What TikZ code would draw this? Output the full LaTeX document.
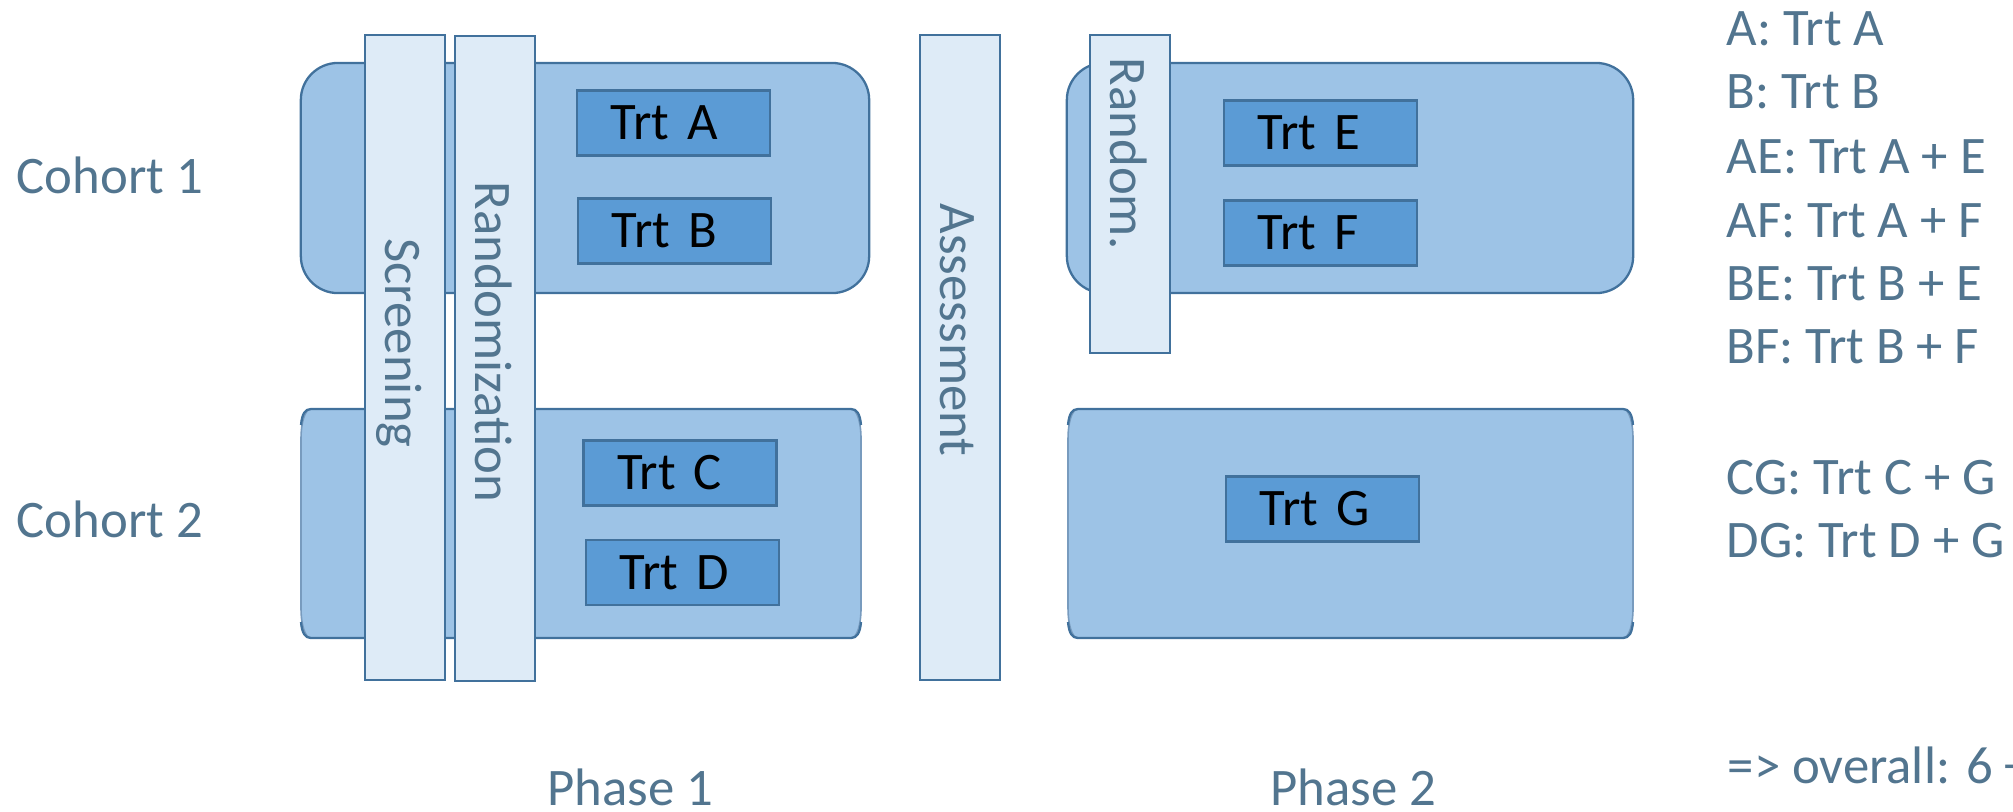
\documentclass[tikz,border=0pt]{standalone}
\usepackage{fontspec}
\setmainfont{Carlito}
\begin{document}
\begin{tikzpicture}[x=0.01cm,y=-0.01cm,
  font=\fontsize{15pt}{18pt}\selectfont,
  txt/.style={text=txtc,inner sep=0pt},
  cbox/.style={draw=strokec,fill=boxc,line width=0.65pt,rounded corners=0.37cm,inner sep=0pt},
  bar/.style={draw=strokec,fill=barc,line width=0.65pt,inner sep=0pt,minimum width=0.8cm},
  vtxt/.style={text=txtc,inner sep=0pt,rotate=-90,anchor=base},
  trt/.style={draw=strokec,fill=trtc,line width=0.65pt,minimum height=0.65cm,
              text width=1.25cm,inner xsep=0.34cm,inner ysep=0pt,align=left,text=black},
  c2fill/.style={fill=boxc},
  c2side/.style={draw=sidec,line width=0.45pt},
  c2edge/.style={draw=strokec,line width=0.65pt}]
\definecolor{txtc}{RGB}{82,117,143}
\definecolor{strokec}{RGB}{65,113,156}
\definecolor{boxc}{RGB}{157,195,230}
\definecolor{barc}{RGB}{222,235,247}
\definecolor{trtc}{RGB}{91,155,213}
\definecolor{sidec}{RGB}{120,155,190}
\useasboundingbox (0,0) rectangle (2013,811);

% cohort 1 boxes
\node[cbox,minimum width=5.68cm,minimum height=2.30cm] (c1p1) at (585,178) {};
\node[cbox,minimum width=5.66cm,minimum height=2.30cm] (c1p2) at (1350,178) {};

% cohort 2 boxes (phase 1)
\path[c2fill,c2side] (301,439) .. controls (301,422) and (305,409) .. (311,409) -- (851,409) .. controls (857,409) and (861,422) .. (861,439) -- (861,608) .. controls (861,625) and (857,638) .. (851,638) -- (311,638) .. controls (305,638) and (301,625) .. (301,608) -- cycle;
\draw[c2edge] (301,425) .. controls (302,414) and (305,409) .. (311,409) -- (851,409) .. controls (857,409) and (860,414) .. (861,425);
\draw[c2edge] (301,622) .. controls (302,633) and (305,638) .. (311,638) -- (851,638) .. controls (857,638) and (860,633) .. (861,622);
\coordinate (c2p1) at (581,523);
% cohort 2 boxes (phase 2)
\path[c2fill,c2side] (1068,439) .. controls (1068,422) and (1072,409) .. (1078,409) -- (1623,409) .. controls (1629,409) and (1633,422) .. (1633,439) -- (1633,608) .. controls (1633,625) and (1629,638) .. (1623,638) -- (1078,638) .. controls (1072,638) and (1068,625) .. (1068,608) -- cycle;
\draw[c2edge] (1068,425) .. controls (1069,414) and (1072,409) .. (1078,409) -- (1623,409) .. controls (1629,409) and (1632,414) .. (1633,425);
\draw[c2edge] (1068,622) .. controls (1069,633) and (1072,638) .. (1078,638) -- (1623,638) .. controls (1629,638) and (1632,633) .. (1633,622);
\coordinate (c2p2) at (1350,523);

% treatments
\node[trt] (trtA) at (673.5,123) {Trt A};
\node[trt] (trtB) at (674.5,231) {Trt B};
\node[trt] (trtC) at (680,473) {Trt C};
\node[trt] (trtD) at (682.5,572.5) {Trt D};
\node[trt] (trtE) at (1320.5,133) {Trt E};
\node[trt] (trtF) at (1320.5,233) {Trt F};
\node[trt] (trtG) at (1322.5,509) {Trt G};

% vertical bars
\node[bar,minimum height=6.45cm] (scr) at (405,357.5) {};
\node[bar,minimum height=6.45cm] (rnd) at (495,358.5) {};
\node[bar,minimum height=6.45cm] (ass) at (960,357.5) {};
\node[bar,minimum height=3.18cm] (rnd2) at (1130,194) {};
\node[vtxt] (scrt) at (385,343) {Screening};
\node[vtxt] (rndt) at (475,342) {Randomization};
\node[vtxt] (asst) at (940,330) {Assessment};
\node[vtxt] (rnd2t) at (1110,154) {Random.};

% labels
\node[txt,anchor=base west] (coh1) at (16,193) {Cohort 1};
\node[txt,anchor=base west] (coh2) at (16,537) {Cohort 2};
\node[txt,anchor=base west] (ph1) at (547,805) {Phase 1};
\node[txt,anchor=base west] (ph2) at (1270,805) {Phase 2};

% legend
\node[txt,anchor=base west] (l1) at (1726,45) {A: Trt A};
\node[txt,anchor=base west] (l2) at (1726,108) {B: Trt B};
\node[txt,anchor=base west] (l3) at (1726,173) {AE: Trt A + E};
\node[txt,anchor=base west] (l4) at (1726,237) {AF: Trt A + F};
\node[txt,anchor=base west] (l5) at (1726,300) {BE: Trt B + E};
\node[txt,anchor=base west] (l6) at (1726,363) {BF: Trt B + F};
\node[txt,anchor=base west] (l7) at (1726,494) {CG: Trt C + G};
\node[txt,anchor=base west] (l8) at (1726,557) {DG: Trt D + G};
\node[txt,anchor=base west] (l9) at (1727,783) {=> overall: 6 +};
\end{tikzpicture}
\end{document}
